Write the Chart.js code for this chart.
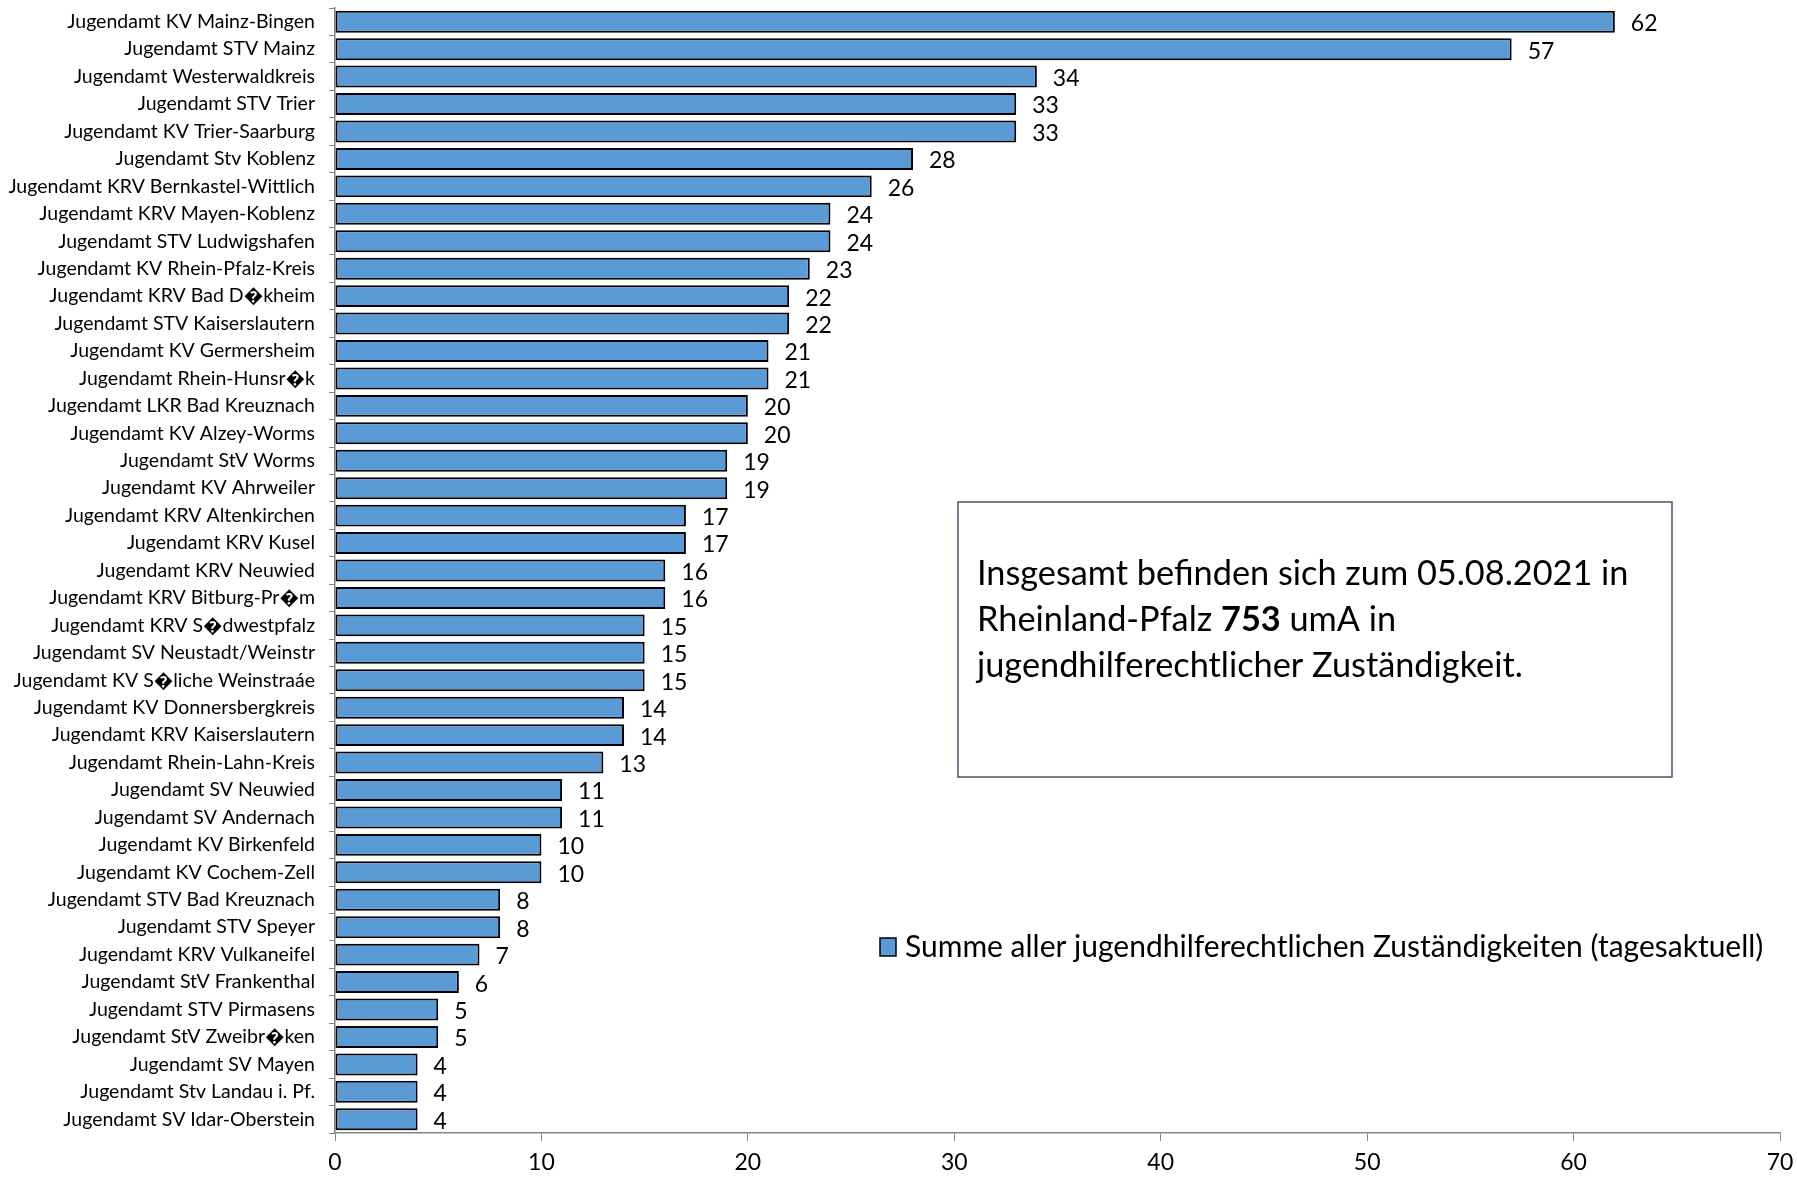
<!DOCTYPE html>
<html>
<head>
<meta charset="utf-8">
<script src="https://cdn.jsdelivr.net/npm/chart.js@4"></script>
<style>
  html, body { margin: 0; padding: 0; background: #fff; }
  #wrap { width: 1797px; height: 1179px; }
</style>
</head>
<body>
<div id="wrap"><canvas id="barChart"></canvas></div>
<script>
const labels = [
  'Jugendamt KV Mainz-Bingen', 'Jugendamt STV Mainz', 'Jugendamt Westerwaldkreis',
  'Jugendamt STV Trier', 'Jugendamt KV Trier-Saarburg', 'Jugendamt Stv Koblenz',
  'Jugendamt KRV Bernkastel-Wittlich', 'Jugendamt KRV Mayen-Koblenz', 'Jugendamt STV Ludwigshafen',
  'Jugendamt KV Rhein-Pfalz-Kreis', 'Jugendamt KRV Bad D\uFFFDkheim', 'Jugendamt STV Kaiserslautern',
  'Jugendamt KV Germersheim', 'Jugendamt Rhein-Hunsr\uFFFDk', 'Jugendamt LKR Bad Kreuznach',
  'Jugendamt KV Alzey-Worms', 'Jugendamt StV Worms', 'Jugendamt KV Ahrweiler',
  'Jugendamt KRV Altenkirchen', 'Jugendamt KRV Kusel', 'Jugendamt KRV Neuwied',
  'Jugendamt KRV Bitburg-Pr\uFFFDm', 'Jugendamt KRV S\uFFFDdwestpfalz', 'Jugendamt SV Neustadt/Weinstr',
  'Jugendamt KV S\uFFFDliche Weinstraáe', 'Jugendamt KV Donnersbergkreis', 'Jugendamt KRV Kaiserslautern',
  'Jugendamt Rhein-Lahn-Kreis', 'Jugendamt SV Neuwied', 'Jugendamt SV Andernach',
  'Jugendamt KV Birkenfeld', 'Jugendamt KV Cochem-Zell', 'Jugendamt STV Bad Kreuznach',
  'Jugendamt STV Speyer', 'Jugendamt KRV Vulkaneifel', 'Jugendamt StV Frankenthal',
  'Jugendamt STV Pirmasens', 'Jugendamt StV Zweibr\uFFFDken', 'Jugendamt SV Mayen',
  'Jugendamt Stv Landau i. Pf.', 'Jugendamt SV Idar-Oberstein'
];

const values = [62, 57, 34, 33, 33, 28, 26, 24, 24, 23, 22, 22, 21, 21, 20, 20, 19, 19, 17, 17, 16,
  16, 15, 15, 15, 14, 14, 13, 11, 11, 10, 10, 8, 8, 7, 6, 5, 5, 4, 4, 4];

const seriesName = 'Summe aller jugendhilferechtlichen Zuständigkeiten (tagesaktuell)';
const xTicks = [0, 10, 20, 30, 40, 50, 60, 70];

const noteLines = [
  [{ t: 'Insgesamt befinden sich zum 05.08.2021 in', b: false }],
  [{ t: 'Rheinland-Pfalz ', b: false }, { t: '753', b: true }, { t: ' umA in', b: false }],
  [{ t: 'jugendhilferechtlicher Zuständigkeit.', b: false }]
];

const FONT = 'Lato, "Open Sans", sans-serif';
const barColor = '#5B9BD5';

// value labels, note box and legend
const extras = {
  id: 'extras',
  afterDatasetsDraw(chart) {
    const c = chart.ctx;
    const meta = chart.getDatasetMeta(0);
    c.save();
    c.fillStyle = '#000';
    c.font = '23px ' + FONT;
    c.textBaseline = 'middle';
    c.textAlign = 'left';
    meta.data.forEach((bar, i) => {
      c.fillText(values[i], bar.x + 16, bar.y + 2);
    });

    // note box
    c.strokeStyle = '#44546A';
    c.lineWidth = 1.5;
    c.strokeRect(958, 502, 714, 275);
    let y = 574;
    noteLines.forEach(line => {
      let x = 977;
      line.forEach(part => {
        c.font = (part.b ? 'bold ' : '') + '34.3px ' + FONT;
        c.fillText(part.t, x, y);
        x += c.measureText(part.t).width;
      });
      y += 46;
    });

    // legend
    c.fillStyle = barColor;
    c.fillRect(880, 938, 16, 18);
    c.strokeStyle = '#000';
    c.lineWidth = 1.5;
    c.strokeRect(880, 938, 16, 18);
    c.fillStyle = '#000';
    c.font = '30px ' + FONT;
    c.fillText(seriesName, 905, 947);
    c.restore();
  }
};

const ctx = document.getElementById('barChart').getContext('2d');

new Chart(ctx, {
  type: 'bar',
  data: {
    labels: labels,
    datasets: [{
      label: seriesName,
      data: values,
      backgroundColor: barColor,
      borderColor: '#000',
      borderWidth: 2,
      borderSkipped: false,
      barPercentage: 0.8,
      categoryPercentage: 1.0
    }]
  },
  options: {
    indexAxis: 'y',
    responsive: true,
    maintainAspectRatio: false,
    animation: false,
    layout: { padding: { top: 8, right: 17, left: 0, bottom: 0 } },
    plugins: {
      legend: { display: false },
      tooltip: { enabled: false }
    },
    scales: {
      x: {
        min: 0,
        max: 70,
        afterBuildTicks: axis => { axis.ticks = xTicks.map(v => ({ value: v })); },
        afterFit: axis => {
          axis.height = 46;
          axis.paddingLeft = 0;
          axis.paddingRight = 0;
        },
        border: { display: true, color: '#868686', width: 1.5 },
        grid: { drawOnChartArea: false, drawTicks: true, tickLength: 8, color: '#868686' },
        ticks: { color: '#000', padding: 8, font: { family: FONT, size: 23 } }
      },
      y: {
        afterFit: axis => {
          axis.width = 335;
          axis.paddingTop = 0;
          axis.paddingBottom = 0;
        },
        border: { display: true, color: '#868686', width: 1.5 },
        grid: { drawOnChartArea: false, drawTicks: true, tickLength: 6, color: '#868686', offset: true },
        ticks: { color: '#000', padding: 14, autoSkip: false, font: { family: FONT, size: 19.5 } }
      }
    }
  },
  plugins: [extras]
});
</script>
</body>
</html>
